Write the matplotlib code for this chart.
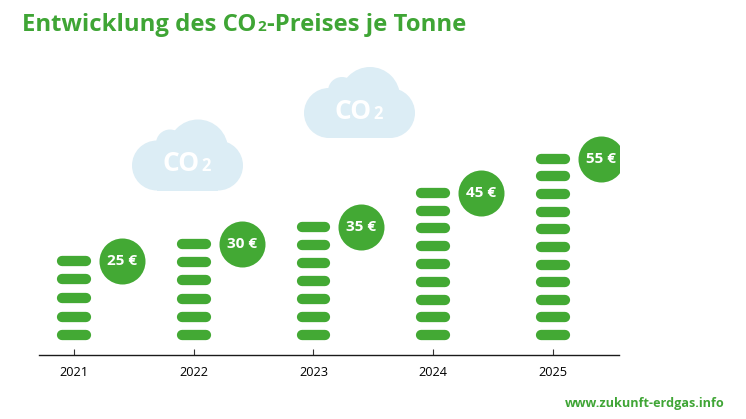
import numpy as np
import matplotlib
matplotlib.use('Agg')
import matplotlib.pyplot as plt
from matplotlib.patches import Circle, Rectangle

plt.rcParams['font.family'] = ['Open Sans', 'DejaVu Sans']

years = [2021, 2022, 2023, 2024, 2025]
prices = [25, 30, 35, 45, 55]
pill_counts = [5, 6, 7, 9, 11]
price_labels = ['25 €', '30 €', '35 €', '45 €', '55 €']

GREEN = '#43a934'
TITLE_GREEN = '#3fa535'
CLOUD = '#dcedf5'

W, H = 746, 419
fig = plt.figure(figsize=(W/100, H/100), dpi=100)

# overlay in pixel coords, for clouds and the free text
bg = fig.add_axes([0, 0, 1, 1])
bg.set_xlim(0, W)
bg.set_ylim(H, 0)
bg.axis('off')


def draw_cloud(x0, y0):
    # x0, y0 is the top left corner of the cloud
    lobes = [(25, 46, 25), (38, 24, 14), (66, 30, 30), (86, 46, 25)]
    for cx, cy, r in lobes:
        bg.add_patch(Circle((x0+cx, y0+cy), r, fc=CLOUD, ec='none'))
    bg.add_patch(Rectangle((x0+25, y0+30), 61, 41, fc=CLOUD, ec='none'))
    # the text is left aligned so the CO and the 2 do not run into each other
    bg.text(x0+31, y0+51.5, 'CO', color='white', fontsize=19, fontweight='bold',
            ha='left', va='baseline')
    bg.text(x0+69, y0+51.5, '2', color='white', fontsize=12, fontweight='bold',
            ha='left', va='baseline')


draw_cloud(132, 119.5)
draw_cloud(304, 67)

# title in pieces, the 2 is small but sits on the baseline
x = 22
for piece, size in [('Entwicklung des CO', 17.2), ('2', 11), ('-Preises je Tonne', 17.2)]:
    t = bg.text(x, 31, piece, color=TITLE_GREEN, fontsize=size, fontweight='bold',
                va='baseline')
    box = t.get_window_extent(fig.canvas.get_renderer())
    x = box.x1 + 1

bg.text(725, 407, 'www.zukunft-erdgas.info', color=TITLE_GREEN, fontsize=9.1,
        fontweight='bold', ha='right', va='baseline')

# chart axes, baseline at y=355, spans x=39..619
ax = fig.add_axes([39/W, 1-355/H, 580/W, 305/H])
ax.patch.set_alpha(0)
ax.set_xlim(2020.708, 2025.551)
ax.set_ylim(-2.65, 87)
for s in ['top', 'left', 'right']:
    ax.spines[s].set_visible(False)
ax.spines['bottom'].set_linewidth(1.0)
ax.spines['bottom'].set_color('#1a1a1a')
ax.set_yticks([])
ax.set_xticks(years)
ax.set_xticklabels(years, fontsize=9.2, color='black')
ax.tick_params(axis='x', direction='in', length=4.5, width=0.8, color='#333333', pad=8)

for year, price, n, label in zip(years, prices, pill_counts, price_labels):
    levels = np.linspace(3.2, price, n)
    ax.hlines(levels, year-0.1, year+0.1, color=GREEN, lw=7.4, capstyle='round')
    ax.scatter([year+0.4], [price], s=1097, color=GREEN, linewidths=0, zorder=3)
    ax.text(year+0.4, price, label, color='white', fontsize=11, fontweight='bold',
            ha='center', va='center', zorder=4)

fig.savefig('out.png', dpi=100)
